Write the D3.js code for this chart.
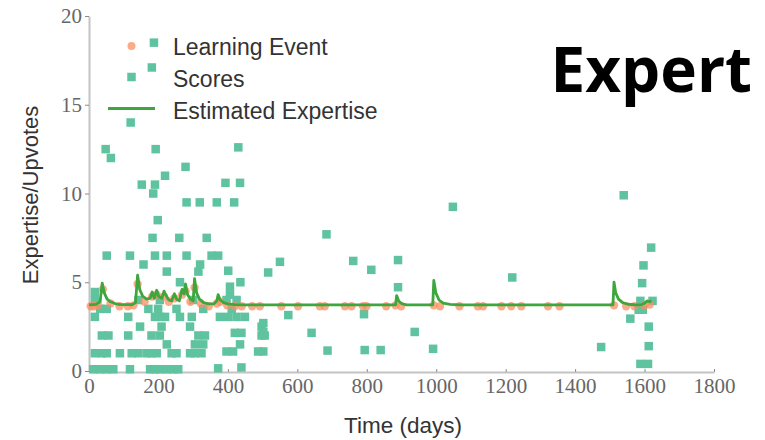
<!DOCTYPE html>
<html>
<head>
<meta charset="utf-8">
<script src="https://cdn.jsdelivr.net/npm/d3@7"></script>
<style>
  html, body { margin: 0; padding: 0; background: #fff; }
  svg { display: block; }
</style>
</head>
<body>
<svg id="chart" width="765" height="440"></svg>
<script>
// Axis ticks
const xTicks = [0, 200, 400, 600, 800, 1000, 1200, 1400, 1600, 1800];
const yTicks = [0, 5, 10, 15, 20];

// Scores (day, score)
const scoreDays = [
  187, 181, 120, 48, 63, 192, 430, 278, 219, 152, 190, 185, 393, 435,
  281, 319, 368, 418, 198, 183, 260, 339, 684, 1048,
  51, 118, 190, 224, 281, 353, 372,
  157, 320, 550,
  224, 315, 401, 516,
  262, 436,
  406, 17, 406,
  761, 813, 890, 890, 792, 938, 687, 794, 840, 991, 641, 574, 502, 502,
  1219, 1540, 1619, 1597, 1593, 1588, 1623, 1583, 1595, 1559, 1612, 1475, 1612, 1588, 1610,
  17, 142, 204, 300, 396, 425,
  32, 51, 171, 199, 252, 329, 411,
  17, 113, 190, 204, 219, 262, 296, 377, 401, 425, 449,
  147, 209, 291, 497,
  37, 56, 113, 180, 204, 315, 334, 420, 439, 497, 506,
  224, 305, 329, 435,
  17, 37, 51, 89, 123, 142, 166, 180, 195, 238, 252, 291, 305, 324, 396, 415, 487, 502,
  12, 32, 51, 70, 118, 176, 190, 204, 224, 243, 257, 372, 439
];
const scoreValues = [
  18.5, 17.1, 14, 12.5, 12, 12.5, 12.6, 11.5, 11, 10.5, 10.5, 10, 10.6, 10.6,
  9.5, 9.5, 9.5, 9.5, 8.5, 7.5, 7.5, 7.5, 7.7, 9.25,
  6.5, 6.5, 6.5, 6.5, 6.5, 6.5, 6.5,
  6, 6, 6.15,
  5.6, 5.6, 5.65, 5.55,
  5, 5,
  4.75, 4.45, 4.3,
  6.2, 5.7, 6.25, 4.72, 3.2, 2.2, 1.15, 1.18, 1.18, 1.25, 2.15, 3.15, 2.7, 2.2,
  5.27, 9.9, 6.95, 5.95, 4.95, 3.95, 3.95, 3.45, 3.45, 2.95, 2.5, 1.35, 1.4, 0.4, 0.4,
  4, 4, 4, 4, 4, 4,
  3.5, 3.5, 3.5, 3.5, 3.5, 3.5, 3.5,
  3.05, 3.05, 3.05, 3.05, 3.05, 3.05, 3.05, 3.05, 3.05, 3.05, 3.05,
  2.5, 2.5, 2.5, 2.5,
  2, 2, 2, 2, 2, 2, 2, 2.15, 2.15, 2, 2,
  1.5, 1.5, 1.5, 1.5,
  1, 1, 1, 1, 1, 1, 1, 1, 1, 1, 1, 1, 1, 1, 1.1, 1.1, 1.1, 1.1,
  0.1, 0.1, 0.1, 0.1, 0.1, 0.1, 0.1, 0.1, 0.1, 0.1, 0.1, 0.15, 0.2
];

// Learning events (day, expertise at event)
const eventDays = [5, 14, 26, 40, 62, 88, 112, 128, 140, 160, 182, 195, 216, 230, 246, 268,
  278, 292, 304, 322, 345, 368, 378, 398, 420, 440, 470, 492, 554, 602, 665, 679, 737, 756,
  789, 799, 856, 883, 899, 993, 1011, 1067, 1120, 1135, 1188, 1216, 1245, 1322, 1355, 1512,
  1547, 1571, 1600, 1615];
const eventValues = [3.65, 3.65, 3.7, 4.6, 3.8, 3.65, 3.65, 3.7, 4.9, 3.9, 4.2, 4.3, 4.2, 3.9, 4.1, 4.3,
  4.5, 3.9, 4.7, 3.8, 3.65, 3.8, 3.9, 3.7, 3.65, 3.65, 3.65, 3.65, 3.65, 3.65, 3.65, 3.65, 3.65, 3.65,
  3.65, 3.65, 3.65, 3.7, 3.65, 3.7, 3.65, 3.65, 3.65, 3.65, 3.65, 3.65, 3.65, 3.65, 3.65, 3.7,
  3.65, 3.65, 3.7, 3.75];

// Estimated expertise curve (day, value)
const expertiseDays = [0, 20, 32, 38, 44, 52, 62, 75, 90, 125, 134, 140, 146, 155, 166, 176, 182, 188,
  195, 201, 210, 216, 222, 230, 238, 246, 252, 260, 268, 274, 278, 284, 292, 300, 304, 310, 318,
  330, 345, 360, 368, 372, 378, 388, 400, 420, 440, 883, 886, 892, 900, 915, 990, 993, 999, 1008,
  1020, 1040, 1070, 1509, 1512, 1517, 1525, 1537, 1552, 1575, 1592, 1600, 1608, 1614, 1620];
const expertiseValues = [3.72, 3.75, 3.9, 4.95, 4.4, 4.05, 3.9, 3.8, 3.74, 3.74, 3.85, 5.4, 4.6, 4.2,
  4.05, 4.1, 4.45, 4.1, 4.55, 4.2, 4.1, 4.5, 4.25, 4.0, 3.95, 4.35, 4.05, 3.95, 4.6, 4.35, 4.9, 4.3,
  4.05, 3.95, 5.2, 4.4, 4.05, 3.85, 3.78, 3.78, 3.95, 4.3, 4.0, 3.85, 3.78, 3.74, 3.72, 3.72, 4.25,
  3.95, 3.8, 3.73, 3.72, 5.1, 4.4, 4.0, 3.82, 3.75, 3.72, 3.72, 5.0, 4.4, 4.05, 3.85, 3.76, 3.72,
  3.74, 3.82, 3.95, 3.9, 3.95];

const legendLabels = ["Learning Event", "Scores", "Estimated Expertise"];
const titleText = "Expert";

const scoreColor = "#5fc3a0";
const eventColor = "#fc8d62";
const lineColor = "#3da63d";

const svg = d3.select("#chart");
const x = d3.scaleLinear().domain([0, 1800]).range([89, 714]);
const y = d3.scaleLinear().domain([0, 20]).range([371, 16]);

// Axes
const xAxis = svg.append("g")
  .attr("transform", "translate(0,372)")
  .call(d3.axisBottom(x).tickValues(xTicks).tickSize(-3).tickSizeOuter(0).tickPadding(6)
    .tickFormat(d3.format("d")));
const yAxis = svg.append("g")
  .attr("transform", "translate(89,0)")
  .call(d3.axisLeft(y).tickValues(yTicks).tickSize(4).tickSizeOuter(0).tickPadding(3));

[xAxis, yAxis].forEach(g => {
  g.select(".domain").attr("stroke", "#c4c4c4").attr("stroke-width", 2);
  g.selectAll(".tick line").attr("stroke", "#8a8a8a").attr("stroke-width", 1);
  g.selectAll(".tick text")
    .attr("fill", "#666")
    .style("font-family", "'Liberation Serif', 'DejaVu Serif', serif")
    .style("font-size", "21px");
});

// Axis titles
svg.append("text")
  .attr("x", 403).attr("y", 433)
  .attr("text-anchor", "middle")
  .attr("fill", "#333")
  .style("font-family", "'Liberation Sans', Arial, sans-serif")
  .style("font-size", "22.5px")
  .text("Time (days)");
svg.append("text")
  .attr("transform", "translate(38,195) rotate(-90)")
  .attr("text-anchor", "middle")
  .attr("fill", "#333")
  .style("font-family", "'Liberation Sans', Arial, sans-serif")
  .style("font-size", "22px")
  .text("Expertise/Upvotes");

// Scores
const sq = 8.5;
svg.append("g").selectAll("rect")
  .data(d3.range(scoreDays.length))
  .join("rect")
  .attr("x", i => x(scoreDays[i]) - sq / 2)
  .attr("y", i => y(scoreValues[i]) - sq / 2)
  .attr("width", sq).attr("height", sq)
  .attr("fill", scoreColor);

// Learning events
svg.append("g").selectAll("circle")
  .data(d3.range(eventDays.length))
  .join("circle")
  .attr("cx", i => x(eventDays[i]))
  .attr("cy", i => y(eventValues[i]))
  .attr("r", 4.2)
  .attr("fill", eventColor)
  .attr("fill-opacity", 0.75);

// Estimated expertise
const line = d3.line().x(i => x(expertiseDays[i])).y(i => y(expertiseValues[i]));
svg.append("path")
  .attr("d", line(d3.range(expertiseDays.length)))
  .attr("fill", "none")
  .attr("stroke", lineColor)
  .attr("stroke-width", 2.8)
  .attr("stroke-linejoin", "round");

// Legend
const legend = svg.append("g");
legend.append("circle").attr("cx", 131.5).attr("cy", 46).attr("r", 4)
  .attr("fill", eventColor).attr("fill-opacity", 0.75);
legend.append("rect").attr("x", 131.5 - sq / 2).attr("y", 77 - sq / 2)
  .attr("width", sq).attr("height", sq).attr("fill", scoreColor);
legend.append("line").attr("x1", 108).attr("x2", 155).attr("y1", 108.5).attr("y2", 108.5)
  .attr("stroke", lineColor).attr("stroke-width", 2.8);
legend.selectAll("text")
  .data(legendLabels)
  .join("text")
  .attr("x", 173)
  .attr("y", (d, i) => 55 + i * 32)
  .attr("fill", "#333")
  .style("font-family", "'Liberation Sans', Arial, sans-serif")
  .style("font-size", "23px")
  .text(d => d);

// Title
svg.append("text")
  .attr("x", 752).attr("y", 92)
  .attr("text-anchor", "end")
  .attr("fill", "#000")
  .style("font-family", "'Open Sans', 'Noto Sans', sans-serif")
  .style("font-weight", 700)
  .style("font-size", "62px")
  .text(titleText);
</script>
</body>
</html>
